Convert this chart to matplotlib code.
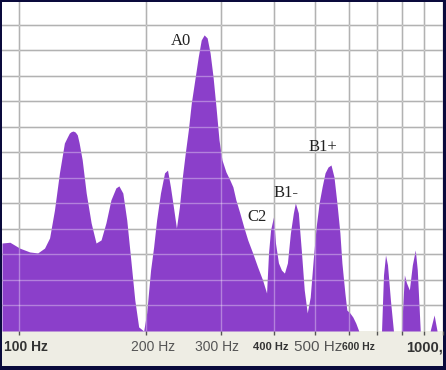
import matplotlib
matplotlib.use("Agg")
import matplotlib.pyplot as plt
from matplotlib.patches import Rectangle
from matplotlib.transforms import blended_transform_factory

# spectrum (Hz, relative level in grid units)
freq = [91.3, 95.3, 100.5, 106.1, 110.8, 115.0, 118.2, 121.4, 124.7, 128.1,
        130.2, 131.6, 133.0, 134.4, 135.9, 137.4, 138.8, 141.1, 144.2, 148.1,
        152.1, 156.3, 160.5, 164.9, 169.4, 172.2, 175.9, 179.7, 183.7, 187.7,
        191.7, 197.0, 200.2, 204.5, 207.9, 211.3, 215.8, 220.6, 224.2, 227.8,
        231.5, 235.3, 239.1, 243.0, 246.9, 251.0, 255.1, 260.6, 264.9, 269.2,
        273.5, 278.0, 282.5, 287.1, 291.7, 296.5, 301.3, 307.8, 314.5, 319.7,
        324.9, 331.9, 339.1, 346.5, 355.9, 365.6, 375.6, 383.8, 387.9, 392.2,
        398.5, 402.8, 409.4, 416.1, 422.9, 429.8, 436.8, 443.9, 448.7, 456.0,
        463.4, 470.9, 478.6, 486.4, 494.3, 502.3, 510.5, 518.8, 527.2, 535.8,
        544.5, 553.4, 562.3, 571.5, 577.7, 587.1, 593.4, 603.1, 612.9, 622.9,
        633.0, 716.3, 724.0, 732.0, 739.8, 751.9, 764.2, 798.0, 811.0, 819.7,
        833.1, 846.6, 860.4, 869.7, 883.9, 932.5, 952.9, 968.3, 980.0]
level = [3.45, 3.48, 3.25, 3.10, 3.06, 3.25, 3.65, 4.75, 6.20, 7.37,
         7.61, 7.76, 7.82, 7.84, 7.80, 7.69, 7.37, 6.71, 5.41, 4.24,
         3.45, 3.57, 4.24, 5.14, 5.61, 5.69, 5.41, 4.35, 2.78, 1.22,
         0.16, 0.0, 0.71, 2.39, 3.29, 4.35, 5.41, 6.20, 6.31, 5.65,
         4.86, 4.04, 4.86, 6.04, 6.98, 7.88, 8.94, 9.96, 10.75, 11.41,
         11.61, 11.49, 10.90, 9.96, 8.78, 7.49, 6.71, 6.24, 5.92, 5.65,
         5.14, 4.63, 4.08, 3.57, 3.06, 2.51, 2.00, 1.49, 3.06, 3.96,
         4.47, 3.45, 2.67, 2.39, 2.27, 2.67, 3.84, 4.63, 5.02, 4.63,
         3.18, 1.61, 0.71, 1.33, 2.78, 4.08, 5.02, 5.65, 6.20, 6.43,
         6.51, 6.04, 5.02, 3.84, 2.67, 1.49, 0.82, 0.71, 0.55, 0.31,
         0.0, 0.0, 2.20, 2.98, 2.60, 1.20, 0.0, 0.0, 2.20, 1.90,
         1.61, 2.59, 3.18, 2.40, 0.0, 0.0, 0.63, 0.0, 0.0]

# peak names and where they sit
peak_names = ["A0", "C2", "B1-", "B1+"]
peak_x = [241.7, 363.7, 427.4, 521.6]
peak_y = [11.37, 4.47, 5.41, 7.22]

grid_freqs = [100, 200, 300, 400, 500, 600, 700, 800, 900, 1000]
tick_texts = ["100 Hz", "200 Hz", "300 Hz", "400 Hz", "500 Hz", "600 Hz", "1000,"]
tick_text_x = [103.8, 206.8, 293.3, 392.2, 507.8, 633.0, 819.7]

navy = "#0a0a3c"
beige = "#eeede4"
purple = "#8b3fca"

fig = plt.figure(figsize=(4.46, 3.70), dpi=100, facecolor=navy)
# beige strip under the plot that holds the frequency labels
fig.patches.append(Rectangle((2 / 446, 4 / 370), 441 / 446, 35 / 370,
                             transform=fig.transFigure, facecolor=beige,
                             edgecolor="none", zorder=-1))

ax = fig.add_axes([2 / 446, 1 - 331 / 370, 441 / 446, 329 / 370])
ax.set_facecolor("white")
ax.set_xscale("log")
ax.set_xlim(91.3, 978.8)
ax.set_ylim(0, 12.9)

ax.fill_between(freq, 0, level, color=purple, lw=0, zorder=2)

# grid: grey below the fill, pale over it
for f in grid_freqs:
    ax.axvline(f, color="#8a8a8a", lw=1.0, zorder=1)
    ax.axvline(f, color="white", lw=1.0, alpha=0.35, zorder=3)
for v in range(1, 13):
    ax.axhline(v, color="#8a8a8a", lw=1.0, zorder=1)
    ax.axhline(v, color="white", lw=1.0, alpha=0.35, zorder=3)

for s in ax.spines.values():
    s.set_visible(False)
ax.set_xticks(grid_freqs)
ax.set_xticks([], minor=True)
ax.set_xticklabels([])
ax.set_yticks([])
ax.tick_params(axis="x", direction="out", length=3, width=1, color="#555555")

trans = blended_transform_factory(ax.transData, ax.transAxes)
styles = [(10, "bold", "#333333"), (10, "normal", "#555555"), (10, "normal", "#555555"),
          (8, "bold", "#333333"), (11, "normal", "#555555"), (7.5, "bold", "#333333"),
          (10.5, "bold", "#333333")]
for txt, x, (size, weight, col) in zip(tick_texts, tick_text_x, styles):
    ha = "left" if txt.startswith("1000") else "center"
    ax.text(x, -0.049, txt, transform=trans, ha=ha, va="center", fontsize=size,
            fontweight=weight, color=col, family="Liberation Sans", clip_on=False)

for name, x, y in zip(peak_names, peak_x, peak_y):
    ax.text(x, y, name, ha="center", va="center", fontsize=12,
            family="Liberation Serif", color="#222222", zorder=4)

fig.savefig("out.png", dpi=100, facecolor=navy)
